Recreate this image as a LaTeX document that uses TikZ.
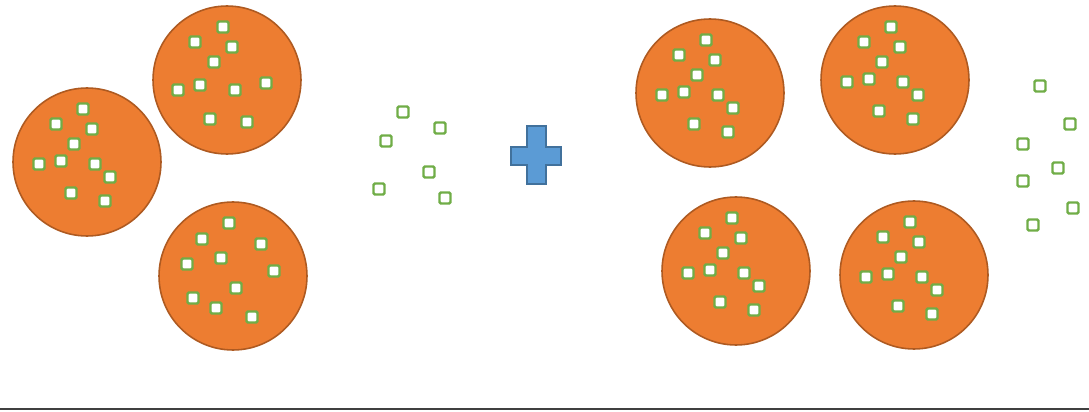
\documentclass[tikz,border=0pt]{standalone}
\usepackage{tikz}
\definecolor{cellorange}{HTML}{ED7D31}
\definecolor{celledge}{HTML}{AE5A21}
\definecolor{grainedge}{HTML}{70AD47}
\definecolor{plusblue}{HTML}{5B9BD5}
\definecolor{plusedge}{HTML}{41719C}

\begin{document}
\begin{tikzpicture}[
  x=0.02cm, y=-0.02cm,
  cell/.style={circle, draw=celledge, fill=cellorange, line width=0.9pt,
    minimum size=2.96cm, inner sep=0pt},
  grain/.style={rectangle, draw=grainedge, fill=white, line width=1.4pt,
    rounded corners=0.8pt, minimum size=0.22cm, inner sep=0pt}
]
  \useasboundingbox (0,0) rectangle (1089,412);

  % Left group: three cells
  \node[cell] (cA) at (87,162) {};
  \node[cell] (cB) at (227,80) {};
  \node[cell] (cC) at (233,276) {};

  % Right group: four cells
  \node[cell] (cD) at (710,93) {};
  \node[cell] (cE) at (895,80) {};
  \node[cell] (cF) at (736,271) {};
  \node[cell] (cG) at (914,275) {};

  % Grains inside the cells (same scatter in cA, cD..cG)
  \foreach \c in {cA,cD,cE,cF,cG}
    \foreach \dx/\dy [count=\i] in {-4/-53, -31/-38, 5/-33, -13/-18, -48/2,
        -26/-1, 8/2, 23/15, -16/31, 18/39}
      \node[grain] (\c-\i) at ([shift={(\dx,\dy)}]\c) {};
  \foreach \dx/\dy [count=\i] in {-4/-53, -32/-38, 5/-33, -13/-18, -49/10,
      -27/5, 8/10, 39/3, -17/39, 20/42}
    \node[grain] (cB-\i) at ([shift={(\dx,\dy)}]cB) {};
  \foreach \dx/\dy [count=\i] in {-4/-53, -31/-37, 28/-32, -12/-18, -46/-12,
      41/-5, 3/12, -40/22, -17/32, 19/41}
    \node[grain] (cC-\i) at ([shift={(\dx,\dy)}]cC) {};

  % Free grains
  \foreach \x/\y [count=\i] in {403/112, 440/128, 386/141, 429/172, 379/189, 445/198}
    \node[grain] (gL-\i) at (\x,\y) {};
  \foreach \x/\y [count=\i] in {1040/86, 1070/124, 1023/144, 1058/168, 1023/181,
      1073/208, 1033/225}
    \node[grain] (gR-\i) at (\x,\y) {};

  % Plus sign
  \draw[fill=plusblue, draw=plusedge, line width=0.8pt]
    (527,126) -- (546,126) -- (546,147) -- (561,147) -- (561,165) -- (546,165)
    -- (546,184) -- (527,184) -- (527,165) -- (511,165) -- (511,147)
    -- (527,147) -- cycle;

  % Base line
  \draw[line width=1.2pt, black!75] (0,409) -- (1089,409);
\end{tikzpicture}
\end{document}
